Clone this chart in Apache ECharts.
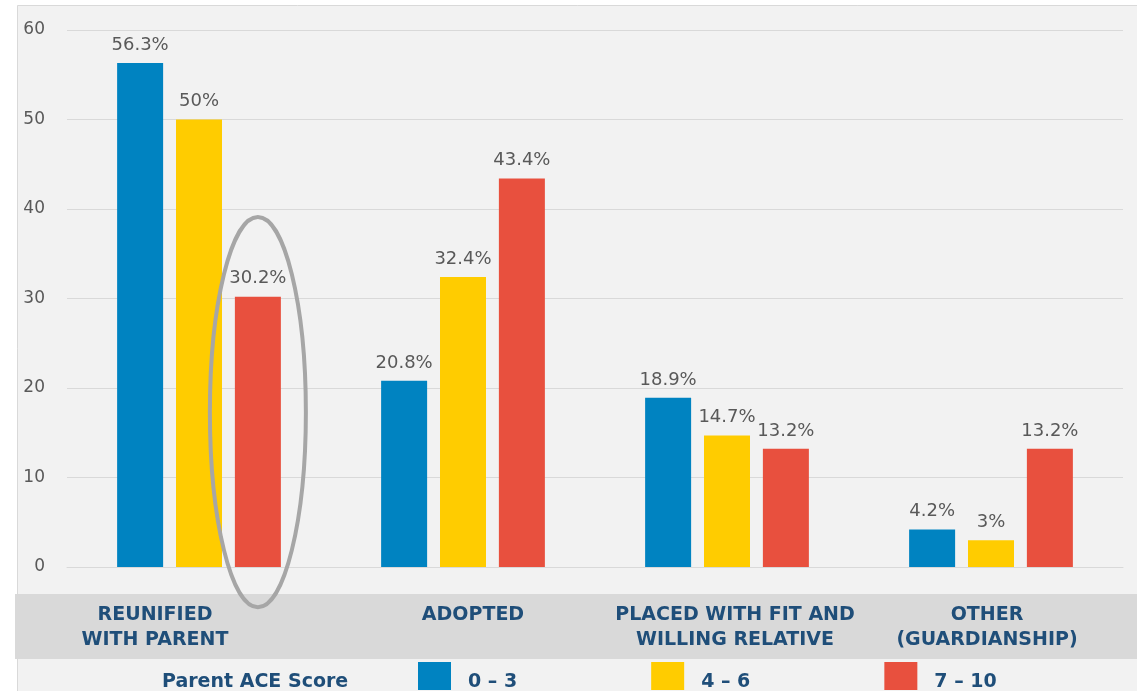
<!DOCTYPE html>
<html>
<head>
<meta charset="utf-8">
<script src="https://cdn.jsdelivr.net/npm/echarts@6/dist/echarts.min.js"></script>
<style>
  html, body { margin: 0; padding: 0; background: #ffffff; }
  #chart { width: 1137px; height: 691px; }
</style>
</head>
<body>
<div id="chart"></div>
<script>
// Placement outcomes by parent ACE score (percent of children)
const categories = [
  'REUNIFIED\nWITH PARENT',
  'ADOPTED',
  'PLACED WITH FIT AND\nWILLING RELATIVE',
  'OTHER\n(GUARDIANSHIP)'
];
const seriesNames = ['0 – 3', '4 – 6', '7 – 10'];
const score0to3 = [56.3, 20.8, 18.9, 4.2];
const score4to6 = [50, 32.4, 14.7, 3];
const score7to10 = [30.2, 43.4, 13.2, 13.2];
const yTicks = { min: 0, max: 60, interval: 10 };
const legendTitle = 'Parent ACE Score';

// Highlight ring around the 7–10 bar of the first category (value range it spans)
const ringCategory = 0;
const ringSeries = 2;
const ringRange = [-4.5, 39.1];

const colors = ['#0083c1', '#ffcc00', '#e8503e'];
const labelBlue = '#1f4e79';
const textGray = '#595959';
const FONT = 'DejaVu Sans';

// per-category horizontal nudge of the axis label text (px, negative = left)
const labelShift = [-44, 10, 8, -4];

const BAR_W = 46;
const BAR_GAP = 0.28;

const chart = echarts.init(document.getElementById('chart'));

const rich = {};
labelShift.forEach((s, i) => {
  rich['c' + i] = {
    fontFamily: FONT, fontWeight: 'bold', fontSize: 19, color: labelBlue,
    lineHeight: 25,
    padding: s < 0 ? [0, -2 * s, 0, 0] : [0, 0, 0, 2 * s]
  };
});

const dataSets = [score0to3, score4to6, score7to10];

const baseGraphic = [
  {
    type: 'rect', z: -10, silent: true,
    shape: { x: 17.5, y: 5.5, width: 1130, height: 700 },
    style: { fill: '#f2f2f2', stroke: '#d9d9d9', lineWidth: 1 }
  },
  {
    type: 'rect', z: -9, silent: true,
    shape: { x: 15, y: 594, width: 1130, height: 65 },
    style: { fill: '#d9d9d9' }
  },
  {
    type: 'text', z: 5, silent: true,
    left: 162, top: 673,
    style: {
      text: legendTitle, fontFamily: FONT, fontWeight: 'bold',
      fontSize: 19, fill: labelBlue
    }
  }
];

const option = {
  backgroundColor: '#ffffff',
  animation: false,
  textStyle: { fontFamily: FONT },
  grid: { left: 67, right: 14, top: 30, bottom: 124, containLabel: false },
  legend: {
    data: seriesNames,
    left: 413,
    top: 657,
    itemWidth: 33,
    itemHeight: 28,
    itemGap: 134,
    icon: 'rect',
    formatter: name => '{t|' + name + '}',
    textStyle: {
      fontFamily: FONT, fontWeight: 'bold', fontSize: 19, color: labelBlue,
      rich: {
        t: {
          fontFamily: FONT, fontWeight: 'bold', fontSize: 19, color: labelBlue,
          padding: [12, 0, 0, 12]
        }
      }
    },
    selectedMode: false
  },
  xAxis: {
    type: 'category',
    data: categories,
    axisLine: { show: true, lineStyle: { color: '#d9d9d9', width: 1 } },
    axisTick: { show: false },
    axisLabel: {
      margin: 36,
      interval: 0,
      formatter: (v, i) => v.split('\n').map(l => '{c' + i + '|' + l + '}').join('\n'),
      rich: rich
    }
  },
  yAxis: {
    type: 'value',
    min: yTicks.min,
    max: yTicks.max,
    interval: yTicks.interval,
    axisLine: { show: false },
    axisTick: { show: false },
    axisLabel: {
      margin: 22, color: textGray, fontSize: 17, fontFamily: FONT
    },
    splitLine: { lineStyle: { color: '#d9d9d9', width: 1 } }
  },
  series: seriesNames.map((name, i) => ({
    name: name,
    type: 'bar',
    data: dataSets[i],
    barWidth: BAR_W,
    barGap: (BAR_GAP * 100) + '%',
    itemStyle: { color: colors[i] },
    label: {
      show: true,
      position: 'top',
      distance: 9,
      color: textGray,
      fontSize: 18,
      fontFamily: FONT,
      formatter: p => p.value + '%'
    }
  })),
  graphic: baseGraphic
};

chart.setOption(option);

// Draw the highlight ellipse around the chosen bar using the chart's own scales
const catX = chart.convertToPixel({ xAxisIndex: 0 }, ringCategory);
const barStep = BAR_W * (1 + BAR_GAP);
const cx = catX + (ringSeries - 1) * barStep;
const yTop = chart.convertToPixel({ yAxisIndex: 0 }, ringRange[1]);
const yBot = chart.convertToPixel({ yAxisIndex: 0 }, ringRange[0]);
chart.setOption({
  graphic: baseGraphic.concat([
    {
      type: 'ellipse', z: 100, silent: true,
      shape: { cx: cx, cy: (yTop + yBot) / 2, rx: 48, ry: (yBot - yTop) / 2 },
      style: { fill: 'none', stroke: '#a6a6a6', lineWidth: 4 }
    }
  ])
});
</script>
</body>
</html>
